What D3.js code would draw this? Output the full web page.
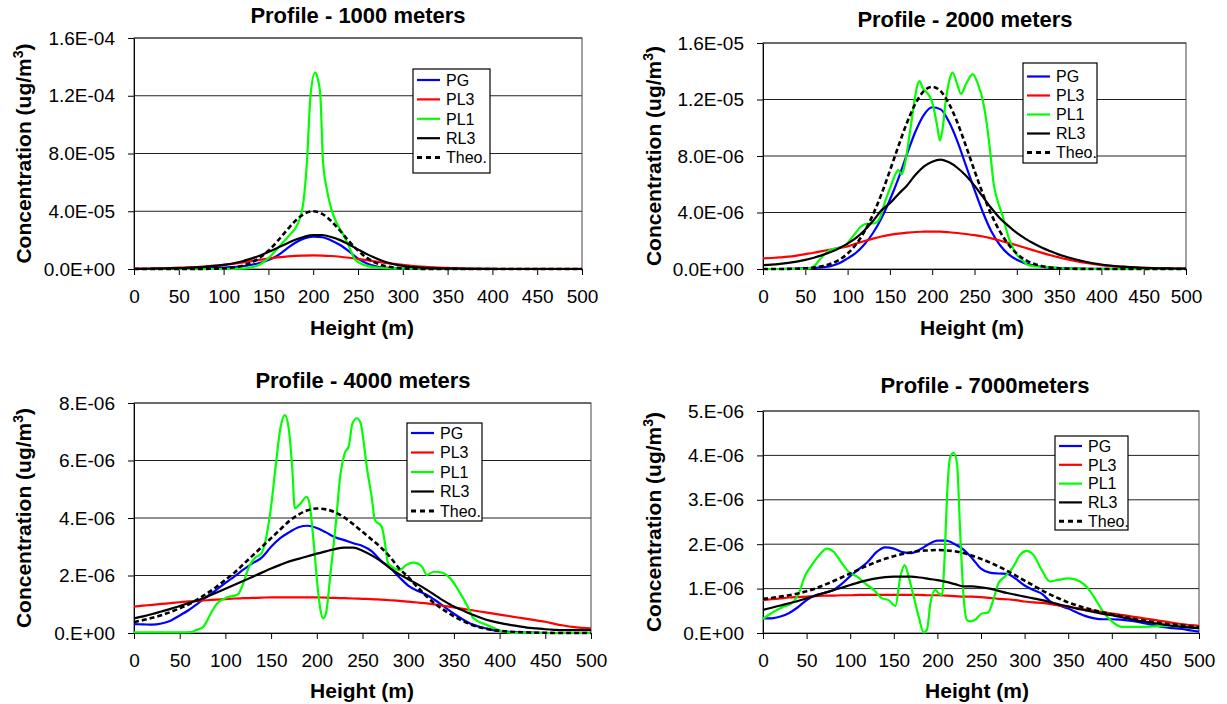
<!DOCTYPE html>
<html>
<head>
<meta charset="utf-8">
<script src="https://cdn.jsdelivr.net/npm/d3@7"></script>
<style>
  body { margin: 0; background: #fff; }
  svg text { font-family: "Liberation Sans", Arial, Helvetica, sans-serif; fill: #000; }
</style>
</head>
<body>
<svg id="chart" width="1227" height="704"></svg>
<script>
// heights (m) shared by the smooth series
var heights = [0,10,20,30,40,50,60,70,80,90,100,110,120,130,140,150,160,170,180,190,200,
  210,220,230,240,250,260,270,280,290,300,310,320,330,340,350,360,370,380,390,400,
  410,420,430,440,450,460,470,480,490,500];
var xTicks = [0,50,100,150,200,250,300,350,400,450,500];

// ---- Profile - 1000 meters (values in 1e-5 ug/m3)
var yTicks1 = [0,4,8,12,16];
var yLabels1 = ["0.0E+00","4.0E-05","8.0E-05","1.2E-04","1.6E-04"];
var pg1 = [0,0,0,0.01,0.01,0.02,0.03,0.04,0.05,0.07, 0.09,0.13,0.19,0.28,0.42,0.62,0.92,1.38,1.82,2.12,
  2.24,2.20,1.98,1.66,1.22,0.72,0.38,0.18,0.09,0.05, 0.03,0.02,0.01,0.01,0.01,0,0,0,0,0, 0,0,0,0,0,0,0,0,0,0, 0];
var pl3_1 = [0.03,0.03,0.04,0.05,0.07,0.09,0.11,0.14,0.18,0.23, 0.29,0.36,0.44,0.53,0.63,0.72,0.80,0.86,0.91,0.93,
  0.94,0.93,0.90,0.85,0.78,0.70,0.61,0.52,0.43,0.35, 0.28,0.22,0.17,0.13,0.10,0.08,0.06,0.04,0.03,0.02,
  0.02,0.01,0.01,0.01,0.01,0.01,0.01,0.01,0.01,0.01, 0.01];
var rl3_1 = [0.01,0.01,0.02,0.03,0.04,0.06,0.08,0.11,0.15,0.21, 0.28,0.38,0.52,0.70,0.92,1.18,1.46,1.75,2.02,2.23,
  2.34,2.34,2.22,2.00,1.70,1.36,1.03,0.74,0.50,0.33, 0.22,0.14,0.09,0.06,0.04,0.03,0.02,0.01,0.01,0,
  0,0,0,0,0,0,0,0,0,0, 0];
var theo1 = [0,0,0,0,0,0,0,0,0.01,0.02, 0.04,0.10,0.21,0.42,0.77,1.27,1.92,2.65,3.33,3.82,
  4.00,3.82,3.33,2.65,1.92,1.27,0.77,0.42,0.21,0.10, 0.04,0.02,0.01,0,0,0,0,0,0,0, 0,0,0,0,0,0,0,0,0,0, 0];
var pl1x_1 = [0,100,120,130,140,150,160,170,175,180,185,189,193,197,202,205,208,211,215,220,
  226,233,240,246,253,260,270,280,300,350,500];
var pl1_1 = [0,0,0.02,0.1,0.3,0.75,1.4,2.1,2.45,2.8,3.5,4.6,7.4,12.0,13.6,13.2,12.0,7.4,5.6,4.2,
  3.2,2.45,1.55,0.72,0.38,0.22,0.12,0.06,0.02,0,0];

// ---- Profile - 2000 meters (values in 1e-6 ug/m3)
var yTicks2 = [0,4,8,12,16];
var yLabels2 = ["0.0E+00","4.0E-06","8.0E-06","1.2E-05","1.6E-05"];
var pg2 = [0,0,0,0.01,0.02,0.04,0.07,0.12,0.2,0.4, 0.75,1.15,1.75,2.55,3.6,4.9,6.4,8.1,9.7,10.9,
  11.45,11.3,10.4,9.0,7.3,5.6,4.0,2.65,1.7,1.05, 0.65,0.4,0.25,0.16,0.1,0.06,0.04,0.03,0.02,0.01,
  0.01,0.01,0,0,0,0,0,0,0,0, 0];
var pl3_2 = [0.75,0.78,0.82,0.87,0.95,1.05,1.15,1.27,1.38,1.5, 1.6,1.8,1.98,2.15,2.3,2.42,2.51,2.57,2.62,2.64,
  2.65,2.64,2.6,2.55,2.48,2.4,2.3,2.17,2.02,1.85, 1.68,1.5,1.32,1.14,0.97,0.82,0.68,0.56,0.45,0.36,
  0.28,0.22,0.17,0.13,0.1,0.08,0.06,0.05,0.04,0.03, 0.03];
var rl3_2 = [0.28,0.31,0.36,0.43,0.52,0.65,0.8,0.98,1.2,1.47, 1.8,2.2,2.75,3.4,4.15,4.65,5.3,5.9,6.65,7.25,
  7.6,7.75,7.55,7.15,6.6,5.9,5.1,4.3,3.6,3.05, 2.55,2.15,1.8,1.5,1.25,1.02,0.83,0.67,0.53,0.41,
  0.32,0.25,0.19,0.15,0.11,0.08,0.06,0.05,0.04,0.03, 0.02];
var theo2 = [0,0,0,0.01,0.02,0.05,0.1,0.2,0.37,0.65, 1.09,1.75,2.66,3.85,5.3,6.96,8.69,10.33,11.69,12.59,
  12.9,12.59,11.69,10.33,8.69,6.96,5.3,3.85,2.66,1.75, 1.09,0.65,0.37,0.2,0.1,0.05,0.02,0.01,0,0,
  0,0,0,0,0,0,0,0,0,0, 0];
var pl1x_2 = [0,50,56,62,67,72,78,85,91,98,104,110,114,122,130,134,138,145,150,155,
  160,164,168,173,179,182,185,189,195,200,206,209,212,216,220,224,229,234,240,248,
  254,260,264,268,273,277,283,291,299,307,313,320,334,345,360,380,500];
var pl1_2 = [0,0,0.05,0.3,0.65,1.0,1.3,1.45,1.52,1.7,2.15,2.6,2.9,3.2,3.22,3.3,3.6,4.9,5.7,6.5,
  7.0,6.7,7.5,9.4,11.9,12.9,13.3,12.8,12.4,11.8,10.1,9.1,9.8,11.9,13.3,13.9,13.2,12.4,13.1,13.8,
  13.1,11.9,10.5,8.6,5.9,4.9,3.8,2.1,1.1,0.6,0.28,0.2,0.16,0.1,0.03,0,0];

// ---- Profile - 4000 meters (values in 1e-6 ug/m3)
var yTicks3 = [0,2,4,6,8];
var yLabels3 = ["0.E+00","2.E-06","4.E-06","6.E-06","8.E-06"];
var pg3 = [0.31,0.3,0.29,0.33,0.43,0.61,0.8,1.03,1.27,1.5, 1.74,1.97,2.21,2.43,2.63,3.0,3.3,3.51,3.68,3.73,
  3.65,3.5,3.33,3.23,3.12,3.03,2.85,2.52,2.27,1.95, 1.65,1.47,1.33,1.13,0.9,0.67,0.47,0.3,0.2,0.12,
  0.07,0.04,0.02,0.01,0.01,0,0,0,0,0, 0];
var pl3_3 = [0.92,0.95,0.98,1.01,1.04,1.07,1.1,1.12,1.14,1.16, 1.18,1.2,1.21,1.22,1.23,1.24,1.24,1.24,1.24,1.24,
  1.24,1.23,1.22,1.21,1.2,1.19,1.18,1.16,1.14,1.12, 1.09,1.06,1.03,0.99,0.94,0.89,0.84,0.79,0.74,0.69,
  0.64,0.59,0.54,0.49,0.44,0.39,0.32,0.26,0.21,0.18, 0.16];
var rl3_3 = [0.51,0.58,0.66,0.75,0.84,0.94,1.04,1.14,1.26,1.4, 1.54,1.68,1.82,1.96,2.1,2.24,2.37,2.49,2.58,2.67,
  2.76,2.84,2.92,2.97,2.97,2.86,2.7,2.5,2.26,2.05, 1.87,1.7,1.51,1.3,1.1,0.92,0.78,0.64,0.52,0.42,
  0.35,0.29,0.24,0.19,0.16,0.13,0.11,0.1,0.1,0.1, 0.1];
var theo3 = [0.38,0.45,0.53,0.62,0.73,0.86,1.0,1.18,1.38,1.6, 1.85,2.1,2.4,2.7,3.0,3.3,3.6,3.9,4.12,4.27,
  4.33,4.3,4.2,4.02,3.78,3.52,3.25,2.98,2.65,2.25, 1.95,1.6,1.28,1.0,0.78,0.58,0.42,0.28,0.18,0.12,
  0.08,0.05,0.03,0.02,0.01,0.01,0,0,0,0, 0];
var pl1x_3 = [0,50,62,68,76,84,91,102,110,114,118,126,133,139,144,149.5,155,160.5,165,169.5,
  173,176,182,189,192,197,200.5,204,207,210,215,220.5,226,230.5,235,239,244,248,251,254.6,
  260,263.6,271,274.6,278,282,291,298,306,315,320.5,328,337,346,357,366,371.5,386,404,420,500];
var pl1_3 = [0.02,0.02,0.03,0.1,0.22,0.68,1.03,1.24,1.3,1.35,1.6,2.31,2.63,2.75,3.23,4.28,5.8,7.18,7.58,7.06,
  5.8,4.34,4.5,4.74,4.5,3.0,1.73,0.8,0.51,0.68,2.08,3.7,5.55,6.25,6.5,7.29,7.47,7.3,6.71,5.8,
  4.74,3.93,3.7,3.12,2.42,2.31,2.19,2.37,2.45,2.31,2.02,2.13,2.1,1.9,1.38,0.86,0.51,0.28,0.05,0,0];

// ---- Profile - 7000meters (values in 1e-6 ug/m3)
var yTicks4 = [0,1,2,3,4,5];
var yLabels4 = ["0.E+00","1.E-06","2.E-06","3.E-06","4.E-06","5.E-06"];
var pg4 = [0.33,0.33,0.37,0.45,0.58,0.74,0.85,0.9,0.96,1.1, 1.28,1.44,1.6,1.82,1.93,1.9,1.82,1.8,1.88,2.0,
  2.08,2.08,2.0,1.88,1.68,1.45,1.36,1.34,1.33,1.22, 1.07,0.97,0.88,0.7,0.62,0.55,0.46,0.38,0.33,0.31,
  0.31,0.3,0.28,0.25,0.21,0.17,0.13,0.11,0.09,0.06, 0.03];
var pl3_4 = [0.74,0.76,0.78,0.8,0.81,0.82,0.83,0.84,0.84,0.85, 0.85,0.86,0.86,0.86,0.86,0.86,0.86,0.86,0.86,0.85,
  0.85,0.84,0.83,0.82,0.82,0.81,0.79,0.77,0.76,0.74, 0.71,0.69,0.68,0.65,0.62,0.59,0.56,0.53,0.5,0.47,
  0.44,0.41,0.38,0.35,0.32,0.29,0.26,0.23,0.2,0.18, 0.16];
var rl3_4 = [0.52,0.57,0.62,0.67,0.72,0.78,0.84,0.9,0.96,1.02, 1.08,1.14,1.19,1.23,1.26,1.27,1.27,1.27,1.25,1.22,
  1.19,1.15,1.1,1.05,1.05,1.03,1.0,0.95,0.9,0.86, 0.82,0.78,0.74,0.69,0.64,0.6,0.55,0.51,0.47,0.43,
  0.4,0.36,0.32,0.28,0.25,0.22,0.19,0.16,0.14,0.12, 0.11];
var theo4 = [0.77,0.79,0.82,0.85,0.89,0.94,1.0,1.08,1.16,1.25, 1.34,1.43,1.52,1.6,1.67,1.73,1.78,1.82,1.85,1.86,
  1.87,1.86,1.84,1.8,1.74,1.67,1.59,1.5,1.4,1.29, 1.18,1.07,0.96,0.86,0.77,0.69,0.62,0.56,0.51,0.46,
  0.42,0.38,0.34,0.3,0.27,0.24,0.21,0.19,0.17,0.15, 0.13];
var pl1x_4 = [0,10,22,33,41,48.5,56,66,73,81,90.6,98,108,117,127,136.5,144,151.8,157.5,162.5,
  167,172.8,178.5,184.3,188,192,197.6,201.5,205.3,208.3,211,214.8,218.6,222.5,226,230,234,238,243.5,251,
  258,264,270,277.5,287,294.7,302.4,310,319.6,329,337,350.5,363.5,373,382.7,390,400,411,434,465,500];
var pl1_4 = [0.32,0.45,0.58,0.67,0.89,1.3,1.53,1.79,1.9,1.83,1.57,1.38,1.27,1.12,0.97,0.78,0.74,0.61,1.27,1.53,
  1.27,0.82,0.37,0.01,0.07,0.67,0.97,0.89,0.86,1.72,3.07,3.97,4.06,3.82,2.32,0.82,0.29,0.26,0.3,0.44,
  0.46,0.74,1.12,1.27,1.49,1.76,1.85,1.76,1.42,1.16,1.19,1.23,1.16,1.0,0.71,0.48,0.26,0.14,0.14,0.16,0.11];

var legendNames = ["PG","PL3","PL1","RL3","Theo."];
var colors = ["#0000ff","#ff0000","#00ff00","#000000","#000000"];

var panels = [
  {title:"Profile - 1000 meters", unit:1e-5, yTicks:yTicks1, yLabels:yLabels1,
   series:[[heights,pg1],[heights,pl3_1],[pl1x_1,pl1_1],[heights,rl3_1],[heights,theo1]],
   box:{l:134,r:582,t:38,b:269}, titleX:358, titleY:23, yTitleX:31, xTitleX:362, xTitleY:335, tickY:303,
   leg:{x:413,y:69,w:77,h:104,first:11,step:19.4}},
  {title:"Profile - 2000 meters", unit:1e-6, yTicks:yTicks2, yLabels:yLabels2,
   series:[[heights,pg2],[heights,pl3_2],[pl1x_2,pl1_2],[heights,rl3_2],[heights,theo2]],
   box:{l:763,r:1186,t:43,b:269}, titleX:965, titleY:27, yTitleX:661, xTitleX:972, xTitleY:335, tickY:303,
   leg:{x:1023,y:63,w:74,h:100,first:13.5,step:19}},
  {title:"Profile - 4000 meters", unit:1e-6, yTicks:yTicks3, yLabels:yLabels3,
   series:[[heights,pg3],[heights,pl3_3],[pl1x_3,pl1_3],[heights,rl3_3],[heights,theo3]],
   box:{l:134,r:591,t:403,b:633}, titleX:363, titleY:388, yTitleX:31, xTitleX:362, xTitleY:698, tickY:667,
   leg:{x:407,y:423,w:75,h:98,first:10,step:19.5}},
  {title:"Profile - 7000meters", unit:1e-6, yTicks:yTicks4, yLabels:yLabels4,
   series:[[heights,pg4],[heights,pl3_4],[pl1x_4,pl1_4],[heights,rl3_4],[heights,theo4]],
   box:{l:763,r:1199,t:411,b:633}, titleX:985, titleY:393, yTitleX:661, xTitleX:977, xTitleY:698, tickY:667,
   leg:{x:1055,y:436,w:73,h:94,first:10,step:18.8}}
];

var svg = d3.select("#chart");

panels.forEach(function (p) {
  var b = p.box,
    g = svg.append("g"),
    x = d3.scaleLinear().domain([0, 500]).range([b.l, b.r]),
    y = d3.scaleLinear().domain([0, p.yTicks[p.yTicks.length - 1] * p.unit]).range([b.b, b.t]);

  // gridlines
  g.selectAll("line.grid").data(p.yTicks.slice(1)).enter().append("line")
    .attr("x1", b.l).attr("x2", b.r)
    .attr("y1", function (d) { return y(d * p.unit); })
    .attr("y2", function (d) { return y(d * p.unit); })
    .attr("stroke", "#222").attr("stroke-width", 1);

  g.append("rect").attr("x", b.l).attr("y", b.t).attr("width", b.r - b.l).attr("height", b.b - b.t)
    .attr("fill", "none").attr("stroke", "#444").attr("stroke-width", 1);

  // axes
  var ay = g.append("g").attr("transform", "translate(" + b.l + ",0)")
    .call(d3.axisLeft(y).tickValues(p.yTicks.map(function (d) { return d * p.unit; }))
      .tickFormat(function (d, i) { return p.yLabels[i]; })
      .tickSize(6).tickSizeOuter(0).tickPadding(13));
  var ax = g.append("g").attr("transform", "translate(0," + b.b + ")")
    .call(d3.axisBottom(x).tickValues(xTicks).tickSize(6).tickSizeOuter(0));
  ax.selectAll("text").attr("y", p.tickY - b.b).attr("dy", 0);
  [ay, ax].forEach(function (a) {
    a.selectAll("text").attr("font-size", 19).attr("font-family", null);
    a.selectAll("path,line").attr("stroke", "#000");
  });

  // series
  var line = d3.line().curve(d3.curveMonotoneX)
    .x(function (d) { return x(d[0]); })
    .y(function (d) { return y(d[1] * p.unit); });
  p.series.forEach(function (s, i) {
    var pts = s[0].map(function (h, k) { return [h, s[1][k]]; });
    g.append("path").datum(pts).attr("d", line)
      .attr("fill", "none").attr("stroke", colors[i])
      .attr("stroke-width", i == 4 ? 2.6 : 2.2)
      .attr("stroke-dasharray", i == 4 ? "5,3" : null)
      .attr("stroke-linejoin", "round");
  });

  // titles
  g.append("text").attr("x", p.titleX).attr("y", p.titleY).attr("text-anchor", "middle")
    .attr("font-size", 22).attr("font-weight", "bold").text(p.title);
  g.append("text").attr("x", p.xTitleX).attr("y", p.xTitleY).attr("text-anchor", "middle")
    .attr("font-size", 21).attr("font-weight", "bold").text("Height (m)");
  var yt = g.append("text")
    .attr("transform", "translate(" + p.yTitleX + "," + (b.t + b.b) / 2 + ") rotate(-90)")
    .attr("text-anchor", "middle").attr("font-size", 21).attr("font-weight", "bold");
  yt.append("tspan").text("Concentration (ug/m");
  yt.append("tspan").attr("dy", -8).attr("font-size", 14).text("3");
  yt.append("tspan").attr("dy", 8).text(")");

  // legend
  var L = p.leg,
    lg = g.append("g");
  lg.append("rect").attr("x", L.x).attr("y", L.y).attr("width", L.w).attr("height", L.h)
    .attr("fill", "#fff").attr("stroke", "#000").attr("stroke-width", 1.2);
  legendNames.forEach(function (n, i) {
    var cy = L.y + L.first + i * L.step;
    lg.append("line").attr("x1", L.x + 4).attr("x2", L.x + 27).attr("y1", cy).attr("y2", cy)
      .attr("stroke", colors[i]).attr("stroke-width", i == 4 ? 3 : 2.2)
      .attr("stroke-dasharray", i == 4 ? "5,4" : null);
    lg.append("text").attr("x", L.x + 33).attr("y", cy).attr("dy", "0.36em")
      .attr("font-size", 16).text(n);
  });
});
</script>
</body>
</html>
